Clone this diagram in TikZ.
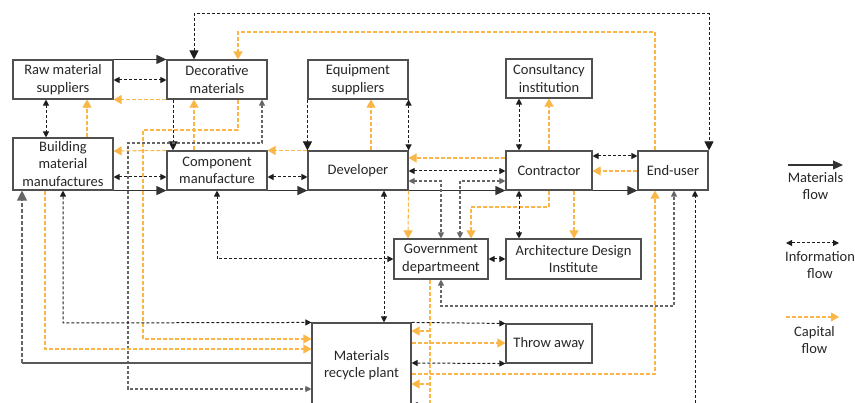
\documentclass[tikz,border=0pt]{standalone}
\usepackage{fontspec}
\setmainfont{Carlito}
\usetikzlibrary{arrows.meta,calc}
\definecolor{capc}{RGB}{250,182,70}
\definecolor{infoc}{RGB}{30,30,30}
\definecolor{boxc}{RGB}{80,80,80}
\tikzset{
  box/.style={draw=boxc, line width=1.1pt, inner sep=0pt, align=center,
    font=\fontsize{14.5}{17.6}\selectfont, text=black!85},
  mat/.style={draw=black!80, line width=1.1pt, -{Triangle[length=10pt,width=9pt]}},
  matline/.style={draw=black!65, line width=1.1pt},
  matdash/.style={draw=black!60, line width=1.1pt, dash pattern=on 4pt off 2pt, -{Triangle[length=10pt,width=10pt]}},
  infos/.style={draw=infoc, line width=1pt, dash pattern=on 3pt off 2pt,
    {Triangle[length=6pt,width=6pt]}-{Triangle[length=6pt,width=6pt]}},
  infog/.style={infos, draw=black!60, line width=1.1pt},
  infobig/.style={draw=infoc, line width=1pt, dash pattern=on 3pt off 2pt,
    {Triangle[length=9pt,width=9pt]}-{Triangle[length=9pt,width=9pt]}},
  infoone/.style={draw=infoc, line width=1pt, dash pattern=on 3pt off 2pt,
    -{Triangle[length=9pt,width=9pt]}},
  infoones/.style={draw=infoc, line width=1pt, dash pattern=on 3pt off 2pt,
    -{Triangle[length=6pt,width=6pt]}},
  capf/.style={draw=capc, line width=1.05pt, dash pattern=on 4pt off 2pt,
    -{Triangle[length=8pt,width=9pt]}},
  capline/.style={draw=capc, line width=1.05pt, dash pattern=on 4pt off 2pt},
  legtext/.style={align=center, font=\fontsize{14.5}{17.6}\selectfont, text=black!85, inner sep=0pt}
}
\begin{document}
\begin{tikzpicture}[x=1pt,y=-1pt]
\useasboundingbox (0,0) rectangle (855,403);
% boxes
\node[box, minimum width=100pt, minimum height=39pt] (raw) at (63,79.5) {Raw material\\suppliers};
\node[box, minimum width=100pt, minimum height=39pt] (deco) at (217,79.5) {Decorative\\materials};
\node[box, minimum width=100pt, minimum height=52pt] (bmm) at (63,164) {Building\\material\\manufactures};
\node[box, minimum width=100pt, minimum height=39pt] (comp) at (217,170.5) {Component\\manufacture};
\node[box, minimum width=100pt, minimum height=39pt] (equip) at (358,79.5) {Equipment\\suppliers};
\node[box, minimum width=100pt, minimum height=39pt] (dev) at (358,170.5) {Developer};
\node[box, minimum width=86pt, minimum height=39pt] (cons) at (549,78.5) {Consultancy\\institution};
\node[box, minimum width=86pt, minimum height=39pt] (contr) at (549,170.5) {Contractor};
\node[box, minimum width=70pt, minimum height=39pt] (end) at (673,170.5) {End-user};
\node[box, minimum width=94pt, minimum height=40pt] (gov) at (441,259) {Government\\departmeent};
\node[box, minimum width=135pt, minimum height=40pt] (arch) at (573.5,259) {Architecture Design\\Institute};
\node[box, minimum width=99pt, minimum height=84pt] (rec) at (361.5,365) {Materials\\recycle plant};
\node[box, minimum width=86pt, minimum height=39pt] (throw) at (549,343.5) {Throw away};

% top long loops
\draw[infobig] (194,0 |- deco.north) -- (194,14) -- (709,14) -- (709,0 |- end.north);
\draw[capf] (655,0 |- end.north) -- (655,32) -- (238,32) -- (238,0 |- deco.north);

% raw / deco / building
\draw[mat] (raw.north east) -- (deco.north west);
\draw[infos] (raw.east |- 0,80) -- (deco.west |- 0,80);
\draw[capf] (deco.south west) -- (raw.south east);
\draw[infos] (46,0 |- raw.south) -- (46,0 |- bmm.north);
\draw[capf] (87,0 |- bmm.north) -- (87,0 |- raw.south);
\draw[infoone] (173,0 |- deco.south) -- (173,0 |- comp.north);
\draw[capf] (194,0 |- comp.north) -- (194,0 |- deco.south);
\draw[capf] (238,0 |- deco.south) -- (238,130) -- (143,130) -- (143,339) -- (rec.west |- 0,339);
\draw[infog] (262,0 |- deco.south) -- (262,143) -- (128,143) -- (128,389) -- (rec.west |- 0,389);

% row 2
\draw[capf] (dev.north west) -- (comp.north east);
\draw[capf] (comp.north west) -- (bmm.east |- 0,151);
\draw[infos] (bmm.east |- 0,177) -- (comp.west |- 0,177);
\draw[mat] (bmm.south east) -- (comp.south west);
\draw[infos] (comp.east |- 0,177) -- (dev.west |- 0,177);
\draw[mat] (comp.south east) -- (dev.south west);
\draw[infoone] (equip.south west) -- (dev.north west);
\draw[capf] (371,0 |- dev.north) -- (371,0 |- equip.south);
\draw[infos] (equip.south east) -- (dev.north east);
\draw[capf] (contr.west |- 0,158) -- (dev.east |- 0,158);
\draw[infos] (dev.east |- 0,171) -- (contr.west |- 0,171);
\draw[mat] (dev.south east) -- (contr.south west);
\draw[infos] (519,0 |- cons.south) -- (519,0 |- contr.north);
\draw[capf] (549,0 |- contr.north) -- (549,0 |- cons.south);
\draw[infos] (contr.east |- 0,156) -- (end.west |- 0,156);
\draw[capf] (end.west |- 0,171) -- (contr.east |- 0,171);
\draw[mat] (contr.south east) -- (end.south west);

% government area
\draw[infog] (dev.east |- 0,181) -- (441,181) -- (441,0 |- gov.north);
\draw[infog] (contr.west |- 0,181) -- (460,181) -- (460,0 |- gov.north);
\draw[capf] (dev.south east) -- (408,0 |- gov.north);
\draw[capf] (549,0 |- contr.south) -- (549,207) -- (471,207) -- (471,0 |- gov.north);
\draw[infos] (519,0 |- contr.south) -- (519,0 |- arch.north);
\draw[capf] (574,0 |- contr.south) -- (574,0 |- arch.north);
\draw[infos] (gov.east) -- (arch.west);
\draw[infog] (441,0 |- gov.south) -- (441,306) -- (674,306) -- (674,0 |- end.south);
\draw[infos] (217,0 |- comp.south) -- (217,259) -- (gov.west);
\draw[infos] (384,0 |- dev.south) -- (384,0 |- rec.north);

% recycle plant
\coordinate (gbot) at (430,412);
\draw[capline] (430,0 |- gov.south) -- (gbot);
\draw[capf] (430,331) -- (rec.east |- 0,331);
\draw[capf] (430,384) -- (rec.east |- 0,384);
\draw[infoones] (rec.north east) -- (throw.north west);
\draw[capf] (rec.east |- 0,343) -- (throw.west |- 0,343);
\draw[infos] (rec.east |- 0,363) -- (throw.south west);
\draw[capf] (rec.east |- 0,374) -- (655,374) -- (655,0 |- end.south);
\draw[infos] (rec.east |- 0,405) -- (695,405) -- (695,0 |- end.south);
\coordinate (bl) at (22,363);
\draw[matline] (rec.west |- 0,363) -- (bl);
\draw[matdash] (bl) -- (22,0 |- bmm.south);
\draw[infos] (63,0 |- bmm.south) -- (63,323) -- (rec.north west);
\draw[capf] (45,0 |- bmm.south) -- (45,349) -- (rec.west |- 0,349);

% legend
\coordinate (m1) at (788,165); \coordinate (m2) at (843,165);
\coordinate (i1) at (786,243); \coordinate (i2) at (839,243);
\coordinate (c1) at (786,317); \coordinate (c2) at (839,317);
\draw[mat] (m1) -- (m2);
\draw[infos] (i1) -- (i2);
\draw[capf] (c1) -- (c2);
\node[legtext] (lm) at (815.5,186) {Materials\\flow};
\node[legtext] (li) at (820,265) {Information\\flow};
\node[legtext] (lc) at (814.5,340) {Capital\\flow};
\end{tikzpicture}
\end{document}
